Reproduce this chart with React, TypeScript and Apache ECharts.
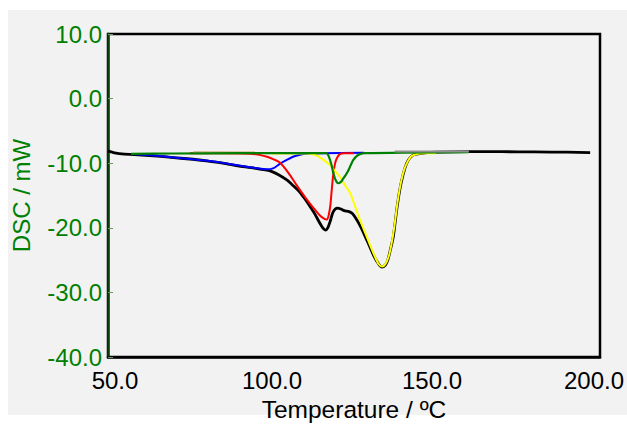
import React, { useEffect, useRef } from "react";
import * as echarts from "echarts";

const blackT = [50, 52, 55, 58, 65, 70, 75, 80, 85, 90, 95, 98, 100, 102, 104.5, 106.5, 108.5, 110, 111.6, 113, 114.6, 115.6, 116.3, 117, 117.8, 118.5, 119.3, 120, 121, 122, 123.5, 124.5, 125.5, 127, 129, 131, 132.5, 133.5, 134.5, 135.3, 136, 137, 138, 139, 140, 141, 142, 143, 144, 146, 150, 160, 170, 180, 190, 197];
const blackV = [-8.1, -8.4, -8.6, -8.65, -8.9, -9.15, -9.35, -9.65, -10.0, -10.45, -10.8, -11.05, -11.3, -11.8, -12.6, -13.5, -14.5, -15.5, -16.7, -17.8, -19.3, -20.1, -20.35, -20.0, -18.9, -17.7, -17.1, -16.95, -17.1, -17.35, -17.5, -17.8, -18.5, -19.8, -22.0, -24.3, -25.6, -26.1, -25.8, -25.0, -23.6, -21.3, -17.3, -14.0, -11.7, -10.1, -9.2, -8.75, -8.6, -8.45, -8.3, -8.2, -8.22, -8.25, -8.3, -8.35];

const blueT = [58, 65, 70, 75, 80, 85, 90, 95, 98.5, 100.5, 102.4, 104.5, 106.4, 108.5, 110.6, 115, 128];
const blueV = [-8.6, -8.85, -9.1, -9.35, -9.6, -9.95, -10.35, -10.75, -10.95, -10.75, -10.1, -9.5, -9.0, -8.7, -8.55, -8.45, -8.4];

const redT = [75, 90, 95, 98.5, 100.5, 102.4, 105, 107.5, 110, 112.6, 114.6, 116, 116.7, 117.3, 117.8, 118.2, 118.7, 119.2, 119.7, 120.7, 122, 125];
const redV = [-8.45, -8.5, -8.6, -9.0, -9.4, -9.9, -11.5, -13.4, -15.2, -16.9, -18.1, -18.6, -18.7, -18.0, -16.5, -14.2, -11.6, -10.1, -9.3, -8.6, -8.45, -8.45];

const yellowT = [100, 110, 112.5, 114, 116, 117.7, 119, 120.7, 122, 123.8, 125, 125.8, 127, 128.9, 130, 131.4, 132.5, 133.6, 134.6, 135.6, 136.4, 137.3, 138.3, 139.3, 140.3, 141.3, 142.3, 143.4, 144.5, 146, 150];
const yellowV = [-8.5, -8.5, -8.6, -8.9, -9.6, -10.3, -11.1, -12.1, -13.2, -14.6, -16.2, -17.4, -19.0, -21.4, -22.8, -24.5, -25.6, -26.0, -25.6, -24.4, -22.6, -19.8, -16.0, -13.0, -11.0, -9.8, -9.0, -8.7, -8.55, -8.45, -8.45];

const greenT = [57, 70, 90, 110, 116.6, 117.2, 117.7, 118.2, 118.7, 119.4, 120.2, 121, 121.7, 122.5, 123.3, 124, 124.8, 125.8, 126.8, 128.5, 140, 160];
const greenV = [-8.55, -8.5, -8.45, -8.45, -8.45, -8.8, -9.5, -10.4, -11.5, -12.6, -13.1, -12.9, -12.4, -11.8, -11.1, -10.3, -9.5, -8.9, -8.6, -8.45, -8.35, -8.3];

const tanT = [76, 95];
const tanV = [-8.3, -8.35];

const grayT = [137.4, 160];
const grayV = [-8.2, -8.18];

const xTicks = [50, 100, 150, 200];
const yTicks = [10, 0, -10, -20, -30, -40];

const zip = (t: number[], v: number[]) => t.map((x, i) => [x, v[i]]);

export default function App() {
  const ref = useRef<HTMLDivElement>(null);
  useEffect(() => {
    document.body.style.margin = "0";
    const chart = echarts.init(ref.current!, null, { renderer: "svg" });
    const font = "'Liberation Sans', Arial, sans-serif";
    const mk = (name: string, t: number[], v: number[], color: string, width: number, z: number) => ({
      name,
      type: "line",
      data: zip(t, v),
      showSymbol: false,
      smooth: 0.25,
      lineStyle: { color, width },
      z,
    });
    const xl = { color: "#000000", fontSize: 24, fontFamily: font };
    chart.setOption({
      animation: false,
      backgroundColor: "#ffffff",
      graphic: [
        {
          type: "rect",
          z: -10,
          silent: true,
          shape: { x: 8, y: 10, width: 619, height: 405 },
          style: { fill: "#f2f2f2" },
        },
      ],
      grid: {
        left: 108,
        right: 27,
        top: 34,
        bottom: 67,
        outerBoundsMode: "none",
        containLabel: false,
        show: true,
        borderColor: "#000000",
        borderWidth: 2.5,
        backgroundColor: "transparent",
      },
      xAxis: {
        type: "value",
        min: xTicks[0],
        max: xTicks[xTicks.length - 1],
        interval: 50,
        name: "Temperature / ºC",
        nameLocation: "middle",
        nameGap: 24,
        nameTextStyle: { color: "#000000", fontSize: 24.5, fontFamily: font },
        axisLine: { show: true, onZero: false, lineStyle: { color: "#000000", width: 2.5 } },
        axisTick: { show: false },
        splitLine: { show: false },
        axisLabel: {
          ...xl,
          margin: 11,
          formatter: (v: number) => {
            const s = v.toFixed(1);
            if (v === 50) return `{r|${s}}`;
            if (v === 150) return `{m|${s}}`;
            if (v === 200) return `{l|${s}}`;
            return `{n|${s}}`;
          },
          rich: {
            n: { ...xl },
            r: { ...xl, padding: [0, 0, 0, 14] },
            m: { ...xl, padding: [0, 8, 0, 0] },
            l: { ...xl, padding: [0, 12, 0, 0] },
          },
        },
      },
      yAxis: {
        type: "value",
        min: yTicks[yTicks.length - 1],
        max: yTicks[0],
        interval: 10,
        name: "DSC / mW",
        nameLocation: "middle",
        nameGap: 75,
        nameTextStyle: { color: "#008000", fontSize: 24, fontFamily: font },
        axisLine: { show: true, onZero: false, lineStyle: { color: "#0b3d0b", width: 2.5 } },
        axisTick: { show: true, inside: true, length: 5, lineStyle: { color: "#5fa05f", width: 1 } },
        splitLine: { show: false },
        axisLabel: {
          color: "#008000",
          fontSize: 24,
          fontFamily: font,
          margin: 6,
          formatter: (v: number) => v.toFixed(1),
        },
      },
      series: [
        mk("Total", blackT, blackV, "#000000", 2.8, 2),
        mk("Peak 1", blueT, blueV, "#0000ff", 2, 3),
        mk("Peak 2", redT, redV, "#ff0000", 2, 4),
        mk("Peak 3", yellowT, yellowV, "#ffff00", 2, 5),
        mk("Baseline A", tanT, tanV, "#c9a96e", 2, 6),
        mk("Peak 4", greenT, greenV, "#008000", 2.2, 7),
        mk("Baseline B", grayT, grayV, "#909090", 2, 8),
      ],
    });
    return () => chart.dispose();
  }, []);
  return (
    <div
      ref={ref}
      style={{ position: "absolute", left: 0, top: 0, width: 627, height: 424 }}
    />
  );
}
